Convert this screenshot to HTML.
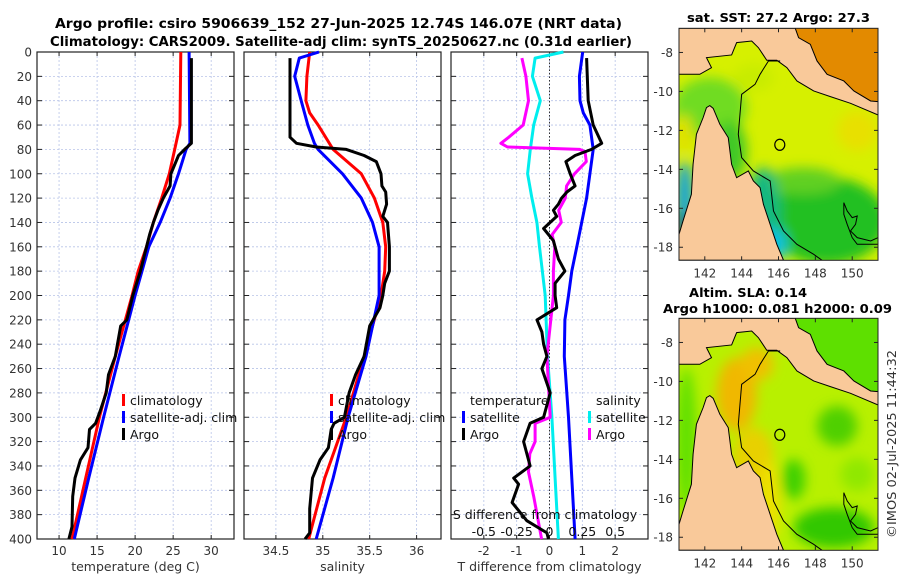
<!DOCTYPE html>
<html><head><meta charset="utf-8">
<style>
html,body{margin:0;padding:0;background:#fff;}
svg{display:block;font-family:"DejaVu Sans","Liberation Sans",sans-serif;}
</style></head>
<body>
<svg id="fig" width="900" height="580" viewBox="0 0 900 580" xmlns="http://www.w3.org/2000/svg">
<text x="55" y="28" textLength="567" lengthAdjust="spacingAndGlyphs" font-size="13" font-weight="bold">Argo profile: csiro 5906639_152 27-Jun-2025 12.74S 146.07E (NRT data)</text>
<text x="50" y="46" textLength="582" lengthAdjust="spacingAndGlyphs" font-size="13" font-weight="bold">Climatology: CARS2009. Satellite-adj clim: synTS_20250627.nc (0.31d earlier)</text>
<g id="plots"></g>
<g id="maps"></g>
<text transform="translate(896,444) rotate(-90)" text-anchor="middle" textLength="188" lengthAdjust="spacingAndGlyphs" font-size="12" fill="#333">©IMOS 02-Jul-2025 11:44:32</text>
</svg>
<script>
// ---------- data ----------
const depthTicks=[0,20,40,60,80,100,120,140,160,180,200,220,240,260,280,300,320,340,360,380,400];
const tTicks=[10,15,20,25,30];
const sTicks=[34.5,35,35.5,36];
const dTicks=[-2,-1,0,1,2];
const sdTicks=[-0.5,-0.25,0,0.25,0.5];
const sdTickLabels=["-0.5","-0.25","0","0.25","0.5"];

const tClimDepth=[0,60,80,100,120,140,160,180,200,250,300,350,400];
const tClimVal=[26.0,25.9,25.2,24.5,23.5,22.4,21.5,20.4,19.6,17.4,15.3,13.5,11.7];
const tSatDepth=[0,75,80,100,120,140,160,180,200,250,300,350,400];
const tSatVal=[27.1,27.2,26.7,25.7,24.6,23.3,21.8,20.9,20.0,17.9,15.85,13.9,12.0];
const tArgoDepth=[5,75,80,85,100,110,120,130,140,150,180,200,220,225,250,265,280,295,305,310,325,335,350,365,390,400];
const tArgoVal=[27.4,27.4,26.5,25.7,24.7,24.6,23.7,23.0,22.4,21.9,20.7,19.7,18.9,18.1,17.4,16.5,16.2,15.4,14.8,14.0,13.8,12.8,12.1,11.8,11.7,11.3];

const sClimDepth=[0,20,40,50,60,80,100,120,140,160,180,200,250,300,350,400];
const sClimVal=[34.86,34.83,34.82,34.86,34.95,35.11,35.41,35.55,35.64,35.67,35.66,35.62,35.44,35.25,35.02,34.85];
const sSatDepth=[0,5,20,40,60,75,80,100,120,140,160,200,250,300,350,400];
const sSatVal=[34.96,34.75,34.70,34.77,34.84,34.91,34.95,35.21,35.41,35.53,35.60,35.60,35.46,35.27,35.11,34.93];
const sArgoDepth=[5,70,75,78,80,85,90,100,110,115,125,135,140,160,180,190,200,210,225,250,265,280,300,305,310,325,335,350,375,395,400];
const sArgoVal=[34.65,34.65,34.72,34.93,35.25,35.44,35.57,35.62,35.63,35.67,35.68,35.64,35.69,35.71,35.71,35.66,35.64,35.61,35.50,35.44,35.35,35.28,35.23,35.12,35.09,35.06,34.97,34.89,34.86,34.86,34.81];

const dTSatDepth=[0,20,40,50,60,80,100,120,140,160,180,200,220,250,300,350,400];
const dTSatVal=[1.01,0.91,0.93,1.03,1.23,1.33,1.23,1.13,0.98,0.83,0.68,0.58,0.47,0.45,0.58,0.68,0.78];
const dTArgoDepth=[5,40,60,75,80,85,90,100,110,115,120,125,130,135,140,145,155,170,180,190,200,210,220,230,240,250,260,280,300,305,320,340,350,355,370,385,395,400];
const dTArgoVal=[1.13,1.18,1.33,1.59,1.28,0.78,0.5,0.63,0.78,0.53,0.37,0.27,0.12,0.22,0.02,-0.18,0.12,0.27,0.47,0.17,0.17,0.22,-0.38,-0.23,-0.18,-0.08,-0.23,0.02,-0.18,-0.59,-0.79,-0.59,-1.09,-0.94,-1.14,-0.69,-0.08,-0.03];
const dSSatDepth=[0,5,20,40,60,80,100,120,140,160,200,250,300,350,400];
const dSSatVal=[0.106,-0.11,-0.13,-0.07,-0.12,-0.146,-0.167,-0.134,-0.096,-0.076,-0.033,-0.015,0.018,0.043,0.068];
const dSArgoDepth=[5,20,40,60,70,75,78,80,82,90,100,110,120,130,140,150,160,180,200,250,300,305,320,330,345,365,400];
const dSArgoVal=[-0.21,-0.18,-0.16,-0.2,-0.31,-0.37,-0.32,0.23,0.27,0.28,0.19,0.13,0.12,0.07,0.09,0.02,0.04,0.03,0.03,-0.02,0.005,-0.11,-0.11,-0.15,-0.16,-0.12,-0.06];

const mapLonTicks=[142,144,146,148,150];
const mapLatTicks=[-8,-10,-12,-14,-16,-18];
const argoLon=146.07, argoLat=-12.74;

// ---------- helpers ----------
const NS="http://www.w3.org/2000/svg";
function mk(tag,attrs,parent){const e=document.createElementNS(NS,tag);for(const k in attrs)e.setAttribute(k,attrs[k]);if(parent)parent.appendChild(e);return e;}
const Y0=52,Y1=539;
const yD=d=>Y0+(d/400)*(Y1-Y0);
const plots=document.getElementById('plots');

function panel(name,x0,x1,dmin,dmax,ticks,labels,xlabel){
  const g=mk('g',{},plots);
  
  
  const xs=v=>x0+(v-dmin)/(dmax-dmin)*(x1-x0);
  ticks.forEach((t,i)=>{
    const l=mk('line',{x1:xs(t),x2:xs(t),y1:Y0,y2:Y1,stroke:'#b8c4e8','stroke-width':0.8,'stroke-dasharray':'2,2'},g);
    
    
    mk('line',{x1:xs(t),x2:xs(t),y1:Y1,y2:Y1-4,stroke:'#222'},g);
    mk('line',{x1:xs(t),x2:xs(t),y1:Y0,y2:Y0+4,stroke:'#222'},g);
    if(labels){const tx=mk('text',{x:xs(t),y:Y1+16,'text-anchor':'middle','font-size':12,fill:'#333'},g);tx.textContent=labels[i];
      
      }
  });
  depthTicks.forEach(d=>{
    const l=mk('line',{x1:x0,x2:x1,y1:yD(d),y2:yD(d),stroke:'#b8c4e8','stroke-width':0.8,'stroke-dasharray':'2,2'},g);
    
    
    mk('line',{x1:x0,x2:x0+5,y1:yD(d),y2:yD(d),stroke:'#222'},g);
    mk('line',{x1:x1,x2:x1-5,y1:yD(d),y2:yD(d),stroke:'#222'},g);
  });
  const r=mk('rect',{x:x0,y:Y0,width:x1-x0,height:Y1-Y0,fill:'none',stroke:'#222','stroke-width':1.2},g);
  
  
  if(xlabel){const t=mk('text',{x:(x0+x1)/2,y:571,'text-anchor':'middle','font-size':12.5,fill:'#333'},g);t.textContent=xlabel;
    
    }
  return {g,xs};
}
function line(p,depths,vals,xs,color,name){
  const pts=depths.map((d,i)=>xs(vals[i]).toFixed(1)+','+yD(d).toFixed(1)).join(' ');
  const pl=mk('polyline',{points:pts,fill:'none',stroke:color,'stroke-width':3,'stroke-linejoin':'round'},p.g);
  
  
}
function legText(g,x,y,txt,name,anchor){const t=mk('text',{x:x,y:y,'font-size':12.5,fill:'#111','text-anchor':anchor||'start'},g);t.textContent=txt;
  
  }
function legMark(g,x,y,color,name){const r=mk('rect',{x:x,y:y-11,width:3,height:12,fill:color},g);
  
  }

depthTicks.forEach(d=>{const t=mk('text',{x:32,y:yD(d)+4.5,'text-anchor':'end','font-size':12,fill:'#333'},plots);t.textContent=d;
  
  });

const p1=panel('temperature-panel',37,234,7.1,33,tTicks,tTicks.map(String),'temperature (deg C)');
line(p1,tClimDepth,tClimVal,p1.xs,'#f00','temp-climatology-line');
line(p1,tSatDepth,tSatVal,p1.xs,'#00f','temp-satellite-line');
line(p1,tArgoDepth,tArgoVal,p1.xs,'#000','temp-argo-line');
legMark(p1.g,122,405,'#f00','legend-climatology-marker');legText(p1.g,130,405,'climatology','legend-climatology');
legMark(p1.g,122,422,'#00f','legend-satellite-marker');legText(p1.g,130,422,'satellite-adj. clim','legend-satellite');
legMark(p1.g,122,439,'#000','legend-argo-marker');legText(p1.g,130,439,'Argo','legend-argo');

const p2=panel('salinity-panel',244,441,34.16,36.26,sTicks,['34.5','35','35.5','36'],'salinity');
line(p2,sClimDepth,sClimVal,p2.xs,'#f00','sal-climatology-line');
line(p2,sSatDepth,sSatVal,p2.xs,'#00f','sal-satellite-line');
line(p2,sArgoDepth,sArgoVal,p2.xs,'#000','sal-argo-line');
legMark(p2.g,330,405,'#f00','legend-climatology-marker');legText(p2.g,338,405,'climatology','legend-climatology');
legMark(p2.g,330,422,'#00f','legend-satellite-marker');legText(p2.g,338,422,'satellite-adj. clim','legend-satellite');
legMark(p2.g,330,439,'#000','legend-argo-marker');legText(p2.g,338,439,'Argo','legend-argo');

const p3=panel('difference-panel',451,648,-3,3,dTicks,dTicks.map(String),'T difference from climatology');
const xsS=v=>p3.xs(v*4);
const z=mk('line',{x1:p3.xs(0),x2:p3.xs(0),y1:Y0,y2:Y1,stroke:'#333','stroke-width':1,'stroke-dasharray':'1.5,2'},p3.g);


line(p3,dSSatDepth,dSSatVal,xsS,'#0ee','sdiff-satellite-line');
line(p3,dSArgoDepth,dSArgoVal,xsS,'#f0f','sdiff-argo-line');
line(p3,dTSatDepth,dTSatVal,p3.xs,'#00f','tdiff-satellite-line');
line(p3,dTArgoDepth,dTArgoVal,p3.xs,'#000','tdiff-argo-line');
legText(p3.g,470,405,'temperature','legend-temperature-heading');
legMark(p3.g,462,422,'#00f','legend-t-satellite-marker');legText(p3.g,470,422,'satellite','legend-t-satellite');
legMark(p3.g,462,439,'#000','legend-t-argo-marker');legText(p3.g,470,439,'Argo','legend-t-argo');
legText(p3.g,596,405,'salinity','legend-salinity-heading');
legMark(p3.g,588,422,'#0ee','legend-s-satellite-marker');legText(p3.g,596,422,'satellite','legend-s-satellite');
legMark(p3.g,588,439,'#f0f','legend-s-argo-marker');legText(p3.g,596,439,'Argo','legend-s-argo');
legText(p3.g,545,519,'S difference from climatology','s-axis-title','middle');
sdTicks.forEach((v,i)=>{legText(p3.g,xsS(v),536,sdTickLabels[i],'s-tick-label','middle');});

// ---------- maps (shape coords in a 594x696 frame starting at 28,12) ----------
const maps=document.getElementById('maps');
const LON0=140.6,LON1=151.4,LAT0=-6.76,LAT1=-18.67;
const pngLand="28,12 375,12 385,40 420,60 440,110 470,150 520,170 550,200 600,230 622,232 622,272 540,237 480,217 430,200 380,170 350,130 320,108 290,108 265,70 245,50 200,55 185,92 110,100 125,130 90,150 28,150";
const northSea="375,12 622,12 622,232 600,230 550,200 520,170 470,150 440,110 420,60 385,40";
const capeYork="28,708 28,630 40,590 65,510 70,420 80,330 100,280 110,250 120,244 130,252 150,300 175,340 185,420 200,460 235,440 250,470 270,490 280,540 300,600 320,660 340,708";
const island="520,535 530,560 545,580 560,575 555,600 540,620 560,640 600,650 622,640 622,660 560,660 545,640 530,600 520,570";
const shelf="330,110 295,110 270,150 255,180 215,210 205,330 215,400 250,440 300,470 310,560 340,620 380,660 430,690 455,708";
function map(name,top,titles,layers){
  const g=mk('g',{},maps);
  
  
  const x0=679,x1=878,y0=top,y1=top+232;
  const svg=mk('svg',{x:x0,y:y0,width:x1-x0,height:y1-y0,viewBox:'28 12 594 696',preserveAspectRatio:'none'},g);
  const defs=mk('defs',{},svg);
  const f=mk('filter',{id:name+'-blur',x:'-50%',y:'-50%',width:'200%',height:'200%'},defs);
  mk('feGaussianBlur',{stdDeviation:18},f);
  mk('rect',{x:28,y:12,width:594,height:696,fill:layers.base},svg);
  const bl=mk('g',{filter:'url(#'+name+'-blur)'},svg);
  layers.blobs.forEach(b=>mk('ellipse',{cx:b[0],cy:b[1],rx:b[2],ry:b[3],fill:b[4]},bl));
  const ns=mk('polygon',{points:northSea,fill:layers.north},svg);
  
  
  const l1=mk('polygon',{points:pngLand,fill:'#f9c99a',stroke:'#000','stroke-width':3},svg);
  
  
  const l2=mk('polygon',{points:capeYork,fill:'#f9c99a',stroke:'#000','stroke-width':3},svg);
  
  
  mk('polygon',{points:island,fill:'none',stroke:'#000','stroke-width':3},svg);
  mk('polyline',{points:shelf,fill:'none',stroke:'#000','stroke-width':3},svg);
  const lx=v=>x0+(v-LON0)/(LON1-LON0)*(x1-x0);
  const ly=v=>y0+(v-LAT0)/(LAT1-LAT0)*(y1-y0);
  const c=mk('ellipse',{cx:lx(argoLon),cy:ly(argoLat),rx:5,ry:5.5,fill:'none',stroke:'#000','stroke-width':1.2},g);
  
  
  mk('rect',{x:x0,y:y0,width:x1-x0,height:y1-y0,fill:'none',stroke:'#222','stroke-width':1},g);
  mapLonTicks.forEach(v=>{mk('line',{x1:lx(v),x2:lx(v),y1:y1,y2:y1-4,stroke:'#222'},g);mk('line',{x1:lx(v),x2:lx(v),y1:y0,y2:y0+4,stroke:'#222'},g);
    const t=mk('text',{x:lx(v),y:y1+17,'text-anchor':'middle','font-size':12,fill:'#333'},g);t.textContent=v;
    
    });
  mapLatTicks.forEach(v=>{mk('line',{x1:x0,x2:x0+4,y1:ly(v),y2:ly(v),stroke:'#222'},g);mk('line',{x1:x1,x2:x1-4,y1:ly(v),y2:ly(v),stroke:'#222'},g);
    const t=mk('text',{x:x0-6,y:ly(v)+4.5,'text-anchor':'end','font-size':12,fill:'#333'},g);t.textContent=v;
    
    });
  titles.forEach(tt=>{const t=mk('text',{x:tt[0],y:tt[1],textLength:tt[3],lengthAdjust:'spacingAndGlyphs','font-size':12.5,'font-weight':'bold'},g);t.textContent=tt[2];
    
    });
}
map('sst-map',28.3,[[687,22,'sat. SST: 27.2 Argo: 27.3',183]],{
  base:'#d6f000', north:'#e38a00',
  blobs:[[120,250,110,90,'#70dc20'],[45,330,25,60,'#e0e000'],[45,520,25,110,'#10a0e0'],[35,600,15,40,'#0030a0'],[180,380,50,90,'#40c828'],
         [470,590,180,130,'#20c020'],[400,470,110,40,'#60d020'],[280,560,50,130,'#18b880'],[310,660,40,50,'#10c0e0'],
         [560,320,60,60,'#e8e000'],[250,160,60,40,'#c8ec00']]
});
map('sla-map',318.3,[[689,297,'Altim. SLA: 0.14',118],[663,313,'Argo h1000: 0.081 h2000: 0.09',229]],{
  base:'#b8f000', north:'#5ee000',
  blobs:[[200,240,60,110,'#f0b800'],[260,150,50,50,'#f0c000'],[250,430,60,90,'#e8d000'],[300,560,30,120,'#f0e000'],
         [500,335,60,60,'#50d000'],[370,495,35,60,'#40d000'],[490,640,120,60,'#30c800'],[50,380,30,220,'#60e000'],
         [560,480,50,50,'#90e800']]
});
</script>
</body></html>
